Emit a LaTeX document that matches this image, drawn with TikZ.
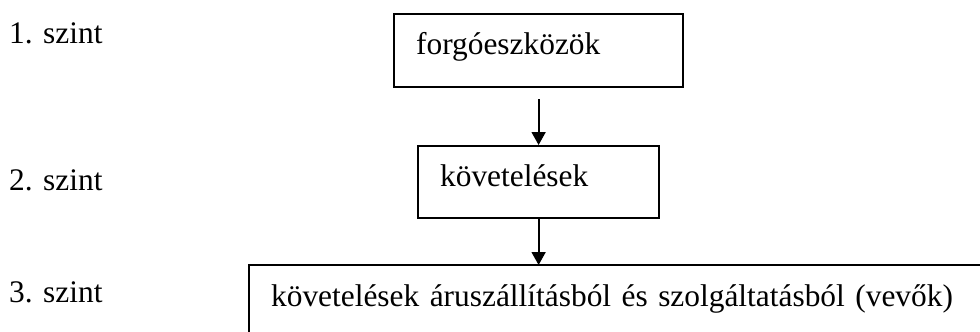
\documentclass[tikz,border=0pt]{standalone}
\usepackage{fontspec}
\setmainfont{Liberation Serif}
\usetikzlibrary{arrows.meta}
\begin{document}
\begin{tikzpicture}[x=1pt,y=-1pt,
  every node/.style={font=\fontsize{31.4pt}{36pt}\selectfont},
  box/.style={draw, line width=2.2pt, rectangle, anchor=north west, align=left, inner ysep=0pt},
  openbox/.style={box, draw=none},
  edge/.style={line width=2.2pt},
  lvl/.style={anchor=base west, inner sep=0pt},
  conn/.style={line width=1.8pt, -{Triangle[length=13pt,width=14pt]}}]
\useasboundingbox (0,0) rectangle (980,332);
\node[lvl] (l1) at (9,43) {1. szint};
\node[lvl] (l2) at (9,190) {2. szint};
\node[lvl] (l3) at (9,302) {3. szint};
\node[box, inner xsep=22pt, text width=245pt, minimum height=73pt, text height=22pt, text depth=15pt] (b1) at (393,13) {forgóeszközök};
\node[box, inner xsep=22pt, text width=197pt, minimum height=72pt, text height=28pt, text depth=20pt] (b2) at (417,145) {követelések};
\node[openbox, inner xsep=21pt, text width=689pt, minimum height=67pt, text height=26pt, text depth=13pt] (b3) at (249,265) {követelések áruszállításból és szolgáltatásból (vevők)};
\draw[edge] (b3.south west) -- (b3.north west) -- (b3.north east);
\draw[conn, shorten <=11pt] (b1.south) -- (b2.north);
\draw[conn] (b2.south) -- (b2.south |- b3.north);
\end{tikzpicture}
\end{document}
